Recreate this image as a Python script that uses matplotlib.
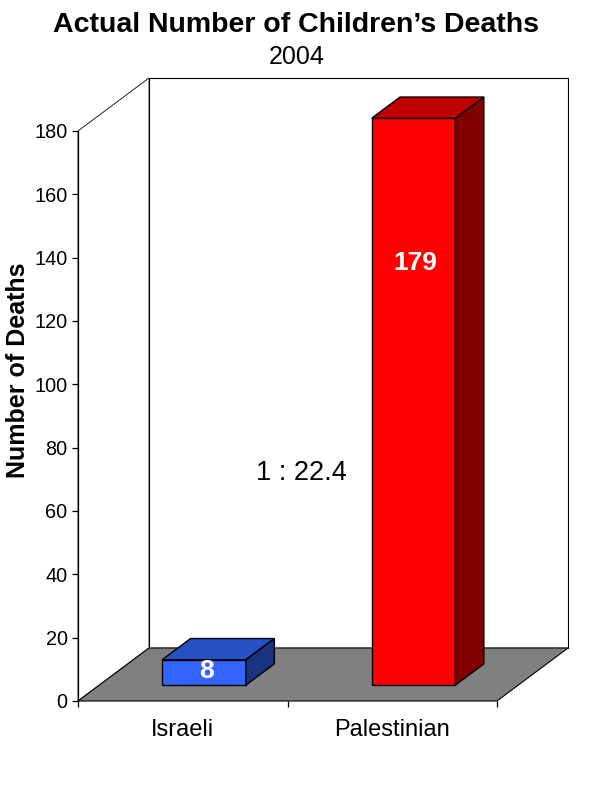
# 3d-look bar chart of children's deaths, 2004

import matplotlib
matplotlib.use("Agg")
import matplotlib.pyplot as plt
from matplotlib.patches import Polygon

plt.rcParams['font.family'] = ['Liberation Sans', 'DejaVu Sans']

categories = ["Israeli", "Palestinian"]
deaths = [8, 179]
bar_text = ["8", "179"]
ratio_text = "1 : 22.4"
title = "Actual Number of Children\u2019s Deaths"
subtitle = "2004"
ylabel = "Number of Deaths"
yticks = list(range(0, 181, 20))

front_colors = ["#3366ff", "#ff0000"]
top_colors = ["#2651c6", "#c00000"]
side_colors = ["#1a3380", "#800000"]

# oblique depth offset in data units (full depth of the floor)
DX = 0.339
DY = 16.75
barWidth = 0.4
z0, z1 = 0.3, 0.7


def proj(x, y, z):
    return (x + z * DX, y + z * DY)


def poly(ax, pts, face, lw=0.8, zorder=2):
    p = Polygon([proj(*q) for q in pts], closed=True, facecolor=face,
                edgecolor="black", linewidth=lw, clip_on=False, zorder=zorder)
    ax.add_patch(p)


fig = plt.figure(figsize=(5.95, 7.88), dpi=100)
ax = fig.add_axes([78 / 595, 87 / 788, 419 / 595, 570 / 788])
ax.set_xlim(0, len(categories))
ax.set_ylim(0, 180)
ax.set_facecolor("none")

ymax = 180
n = len(categories)

# back wall and left wall
poly(ax, [(0, 0, 1), (n, 0, 1), (n, ymax, 1), (0, ymax, 1)], "white", lw=0.8, zorder=1)
poly(ax, [(0, 0, 0), (0, 0, 1), (0, ymax, 1), (0, ymax, 0)], "white", lw=0.6, zorder=1)

# floor
poly(ax, [(0, 0, 0), (n, 0, 0), (n, 0, 1), (0, 0, 1)], "#808080", lw=0.8, zorder=1.5)

for i, v in enumerate(deaths):
    c = i + 0.5
    x0, x1 = c - barWidth / 2, c + barWidth / 2
    poly(ax, [(x0, 0, z0), (x1, 0, z0), (x1, v, z0), (x0, v, z0)], front_colors[i], lw=1.0, zorder=3)
    poly(ax, [(x0, v, z0), (x1, v, z0), (x1, v, z1), (x0, v, z1)], top_colors[i], lw=1.0, zorder=3)
    poly(ax, [(x1, 0, z0), (x1, 0, z1), (x1, v, z1), (x1, v, z0)], side_colors[i], lw=1.0, zorder=3)

# labels on the bar faces
label_offset = [4.3, 133.2]
for i, v in enumerate(deaths):
    lx, ly = proj(i + 0.51, label_offset[i], z0)
    ax.text(lx, ly, bar_text[i], color="white", fontsize=19, fontweight="bold",
            ha="center", va="center", zorder=5)

ax.text(1.064, 72, ratio_text, fontsize=19.5, ha="center", va="center", zorder=5)

for s in ["top", "right", "bottom"]:
    ax.spines[s].set_visible(False)
ax.spines["left"].set_linewidth(0.9)
ax.spines["left"].set_zorder(4)

ax.set_yticks(yticks)
ax.tick_params(axis="y", direction="out", length=4.5, width=0.9, pad=3, labelsize=14.3)

ax.set_xticks([0.5 + i for i in range(n)])
ax.set_xticklabels(categories)
ax.set_xticks(list(range(n + 1)), minor=True)
ax.tick_params(axis="x", which="major", length=0, pad=13, labelsize=17)
ax.tick_params(axis="x", which="minor", length=4.5, width=0.9)

fig.text(18 / 595, (788 - 370) / 788, ylabel, rotation=90, fontsize=18,
         fontweight="bold", ha="center", va="center")
fig.text(0.498, (788 - 25) / 788, title, fontsize=20.5, fontweight="bold",
         ha="center", va="center")
fig.text(0.498, (788 - 57) / 788, subtitle, fontsize=18, ha="center", va="center")

fig.savefig("out.png", dpi=100)
